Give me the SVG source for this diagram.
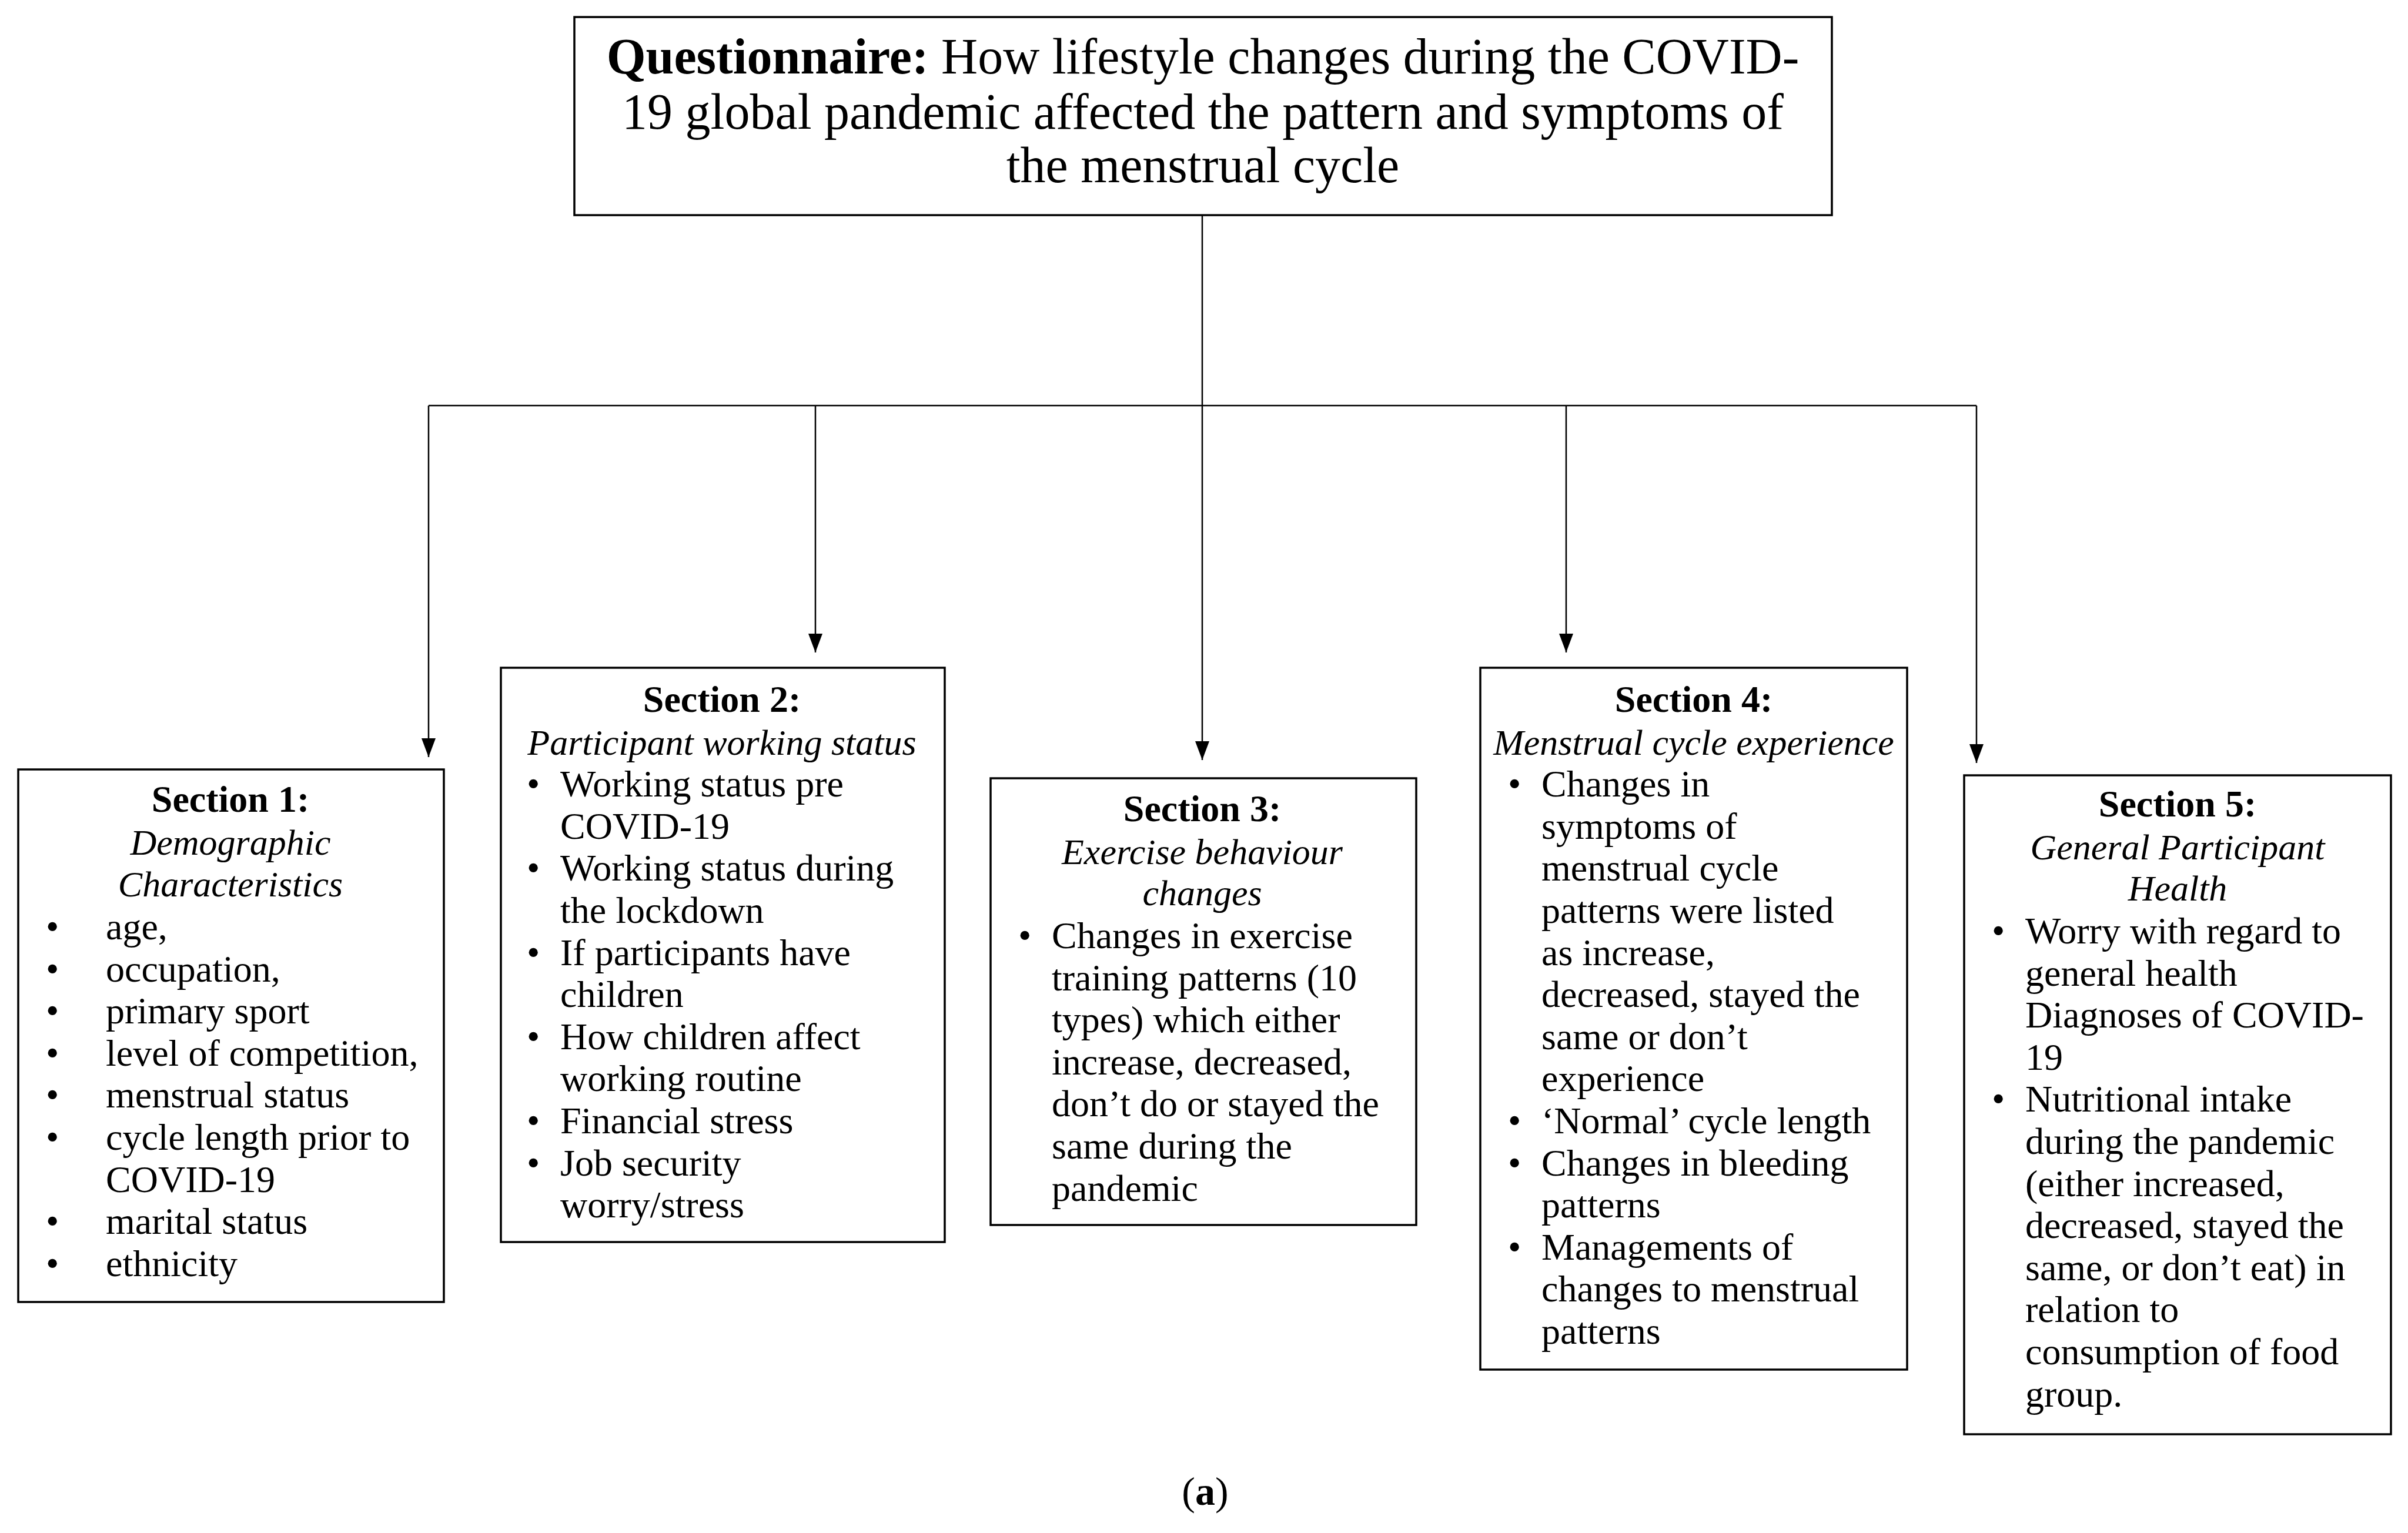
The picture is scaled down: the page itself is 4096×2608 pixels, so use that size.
<svg xmlns="http://www.w3.org/2000/svg" width="4096" height="2608" viewBox="0 0 4096 2608">
<style>
  .box{fill:#fff;stroke:#000;stroke-width:3.5}
  .t{font-family:"Liberation Serif","Times New Roman",serif;font-size:64px;fill:#000}
  .c{text-anchor:middle}
  .b{font-weight:bold}
  .i{font-style:italic;font-size:62px}
  .title{font-family:"Liberation Serif","Times New Roman",serif;font-size:86px;fill:#000;text-anchor:middle}
  .ln{fill:none;stroke:#000;stroke-width:2.5}
</style>
<defs>
  <marker id="arr" viewBox="0 0 32 24" refX="32" refY="12" markerWidth="32" markerHeight="24" markerUnits="userSpaceOnUse" orient="auto">
    <path d="M0,0 L32,12 L0,24 Z" fill="#000"/>
  </marker>
</defs>
<rect width="4096" height="2608" fill="#fff"/>

<g id="connectors">
  <path class="ln" d="M2045,366 V690"/>
  <path class="ln" d="M729,690 H3362"/>
  <path class="ln" d="M729,690 V1288" marker-end="url(#arr)"/>
  <path class="ln" d="M1387,690 V1110" marker-end="url(#arr)"/>
  <path class="ln" d="M2045,690 V1293" marker-end="url(#arr)"/>
  <path class="ln" d="M2664,690 V1110" marker-end="url(#arr)"/>
  <path class="ln" d="M3362,690 V1298" marker-end="url(#arr)"/>
</g>

<g id="questionnaire">
  <rect class="box" x="977" y="29" width="2139" height="337"/>
  <text class="title" x="2046" y="125"><tspan font-weight="bold">Questionnaire:</tspan> How lifestyle changes during the COVID-</text>
  <text class="title" x="2046" y="219">19 global pandemic affected the pattern and symptoms of</text>
  <text class="title" x="2046" y="310">the menstrual cycle</text>
</g>

<g id="section1">
  <rect class="box" x="31" y="1309" width="724" height="906"/>
  <text class="t c b" x="392" y="1381">Section 1:</text>
  <text class="t c i" x="392" y="1454">Demographic</text>
  <text class="t c i" x="392" y="1525">Characteristics</text>
  <g class="t">
    <text x="78" y="1598">•</text><text x="180" y="1598">age,</text>
    <text x="78" y="1670">•</text><text x="180" y="1670">occupation,</text>
    <text x="78" y="1741">•</text><text x="180" y="1741">primary sport</text>
    <text x="78" y="1813">•</text><text x="180" y="1813">level of competition,</text>
    <text x="78" y="1884">•</text><text x="180" y="1884">menstrual status</text>
    <text x="78" y="1956">•</text><text x="180" y="1956">cycle length prior to</text>
    <text x="180" y="2028">COVID-19</text>
    <text x="78" y="2099">•</text><text x="180" y="2099">marital status</text>
    <text x="78" y="2171">•</text><text x="180" y="2171">ethnicity</text>
  </g>
</g>

<g id="section2">
  <rect class="box" x="852" y="1136" width="755" height="977"/>
  <text class="t c b" x="1228" y="1211">Section 2:</text>
  <text class="t c i" x="1228" y="1284">Participant working status</text>
  <g class="t">
    <text x="896" y="1355">•</text><text x="953" y="1355">Working status pre</text>
    <text x="953" y="1427">COVID-19</text>
    <text x="896" y="1498">•</text><text x="953" y="1498">Working status during</text>
    <text x="953" y="1570">the lockdown</text>
    <text x="896" y="1642">•</text><text x="953" y="1642">If participants have</text>
    <text x="953" y="1713">children</text>
    <text x="896" y="1785">•</text><text x="953" y="1785">How children affect</text>
    <text x="953" y="1856">working routine</text>
    <text x="896" y="1928">•</text><text x="953" y="1928">Financial stress</text>
    <text x="896" y="2000">•</text><text x="953" y="2000">Job security</text>
    <text x="953" y="2071">worry/stress</text>
  </g>
</g>

<g id="section3">
  <rect class="box" x="1685" y="1324" width="724" height="760"/>
  <text class="t c b" x="2045" y="1397">Section 3:</text>
  <text class="t c i" x="2045" y="1470">Exercise behaviour</text>
  <text class="t c i" x="2045" y="1540">changes</text>
  <g class="t">
    <text x="1732" y="1613">•</text><text x="1789" y="1613">Changes in exercise</text>
    <text x="1789" y="1685">training patterns (10</text>
    <text x="1789" y="1756">types) which either</text>
    <text x="1789" y="1828">increase, decreased,</text>
    <text x="1789" y="1899">don’t do or stayed the</text>
    <text x="1789" y="1971">same during the</text>
    <text x="1789" y="2043">pandemic</text>
  </g>
</g>

<g id="section4">
  <rect class="box" x="2518" y="1136" width="726" height="1194"/>
  <text class="t c b" x="2881" y="1211">Section 4:</text>
  <text class="t c i" x="2881" y="1284">Menstrual cycle experience</text>
  <g class="t">
    <text x="2565" y="1355">•</text><text x="2622" y="1355">Changes in</text>
    <text x="2622" y="1427">symptoms of</text>
    <text x="2622" y="1498">menstrual cycle</text>
    <text x="2622" y="1570">patterns were listed</text>
    <text x="2622" y="1642">as increase,</text>
    <text x="2622" y="1713">decreased, stayed the</text>
    <text x="2622" y="1785">same or don’t</text>
    <text x="2622" y="1856">experience</text>
    <text x="2565" y="1928">•</text><text x="2622" y="1928">‘Normal’ cycle length</text>
    <text x="2565" y="2000">•</text><text x="2622" y="2000">Changes in bleeding</text>
    <text x="2622" y="2071">patterns</text>
    <text x="2565" y="2143">•</text><text x="2622" y="2143">Managements of</text>
    <text x="2622" y="2214">changes to menstrual</text>
    <text x="2622" y="2286">patterns</text>
  </g>
</g>

<g id="section5">
  <rect class="box" x="3341" y="1319" width="726" height="1121"/>
  <text class="t c b" x="3704" y="1389">Section 5:</text>
  <text class="t c i" x="3704" y="1462">General Participant</text>
  <text class="t c i" x="3704" y="1532">Health</text>
  <g class="t">
    <text x="3388" y="1605">•</text><text x="3445" y="1605">Worry with regard to</text>
    <text x="3445" y="1677">general health</text>
    <text x="3445" y="1748">Diagnoses of COVID-</text>
    <text x="3445" y="1820">19</text>
    <text x="3388" y="1891">•</text><text x="3445" y="1891">Nutritional intake</text>
    <text x="3445" y="1963">during the pandemic</text>
    <text x="3445" y="2035">(either increased,</text>
    <text x="3445" y="2106">decreased, stayed the</text>
    <text x="3445" y="2178">same, or don’t eat) in</text>
    <text x="3445" y="2249">relation to</text>
    <text x="3445" y="2321">consumption of food</text>
    <text x="3445" y="2393">group.</text>
  </g>
</g>

<g id="caption">
  <text x="2050" y="2560" font-family="Liberation Serif,'Times New Roman',serif" font-size="68" text-anchor="middle">(<tspan font-weight="bold">a</tspan>)</text>
</g>
</svg>
